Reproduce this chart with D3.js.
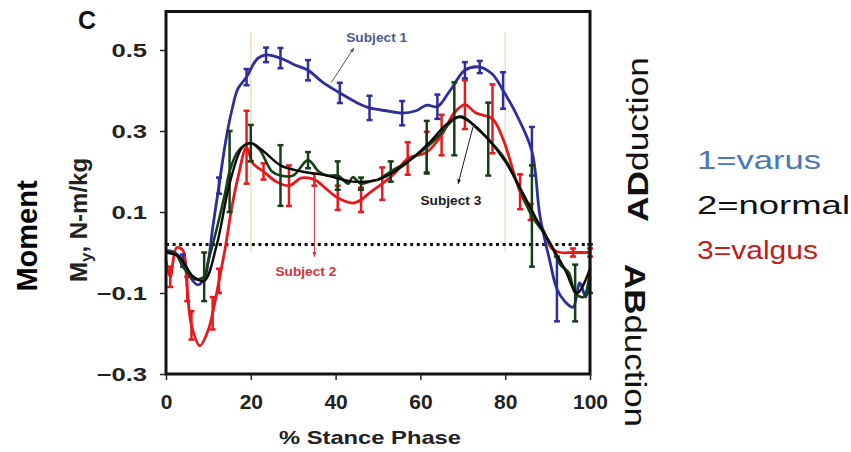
<!DOCTYPE html>
<meta charset="utf-8">
<script src="https://d3js.org/d3.v7.min.js"></script>
<style>
  body { margin: 0; background: #fff; }
  text { font-family: Arial, "Liberation Sans", sans-serif; }
</style>
<div id="chart"></div>
<script>

// % stance phase and moment values (N-m/kg)
var blueX = [0, 2, 4, 6, 7.5, 9, 10, 11, 12.5, 14, 15.5, 17, 19, 21.5, 23.6, 27, 30, 33.5, 37, 41, 45, 48, 52, 55.7, 59, 61.5, 64, 67, 70.5, 74, 77, 79.5, 82.7, 86.3, 88.2, 90.5, 92.2, 94, 96, 97.6, 99, 100]
var blueY = [0.005, 0.0, -0.02, -0.065, -0.08, -0.065, -0.02, 0.06, 0.165, 0.27, 0.35, 0.405, 0.433, 0.478, 0.488, 0.48, 0.465, 0.45, 0.42, 0.394, 0.37, 0.357, 0.35, 0.344, 0.35, 0.364, 0.36, 0.40, 0.45, 0.458, 0.44, 0.40, 0.34, 0.25, 0.09, -0.02, -0.09, -0.12, -0.135, -0.075, -0.11, -0.06]
var blueErr = [0, 0, 0.015, 0, 0, 0, 0, 0, 0.02, 0, 0, 0, 0.02, 0, 0.018, 0.025, 0, 0.025, 0, 0.025, 0, 0.03, 0, 0.03, 0, 0, 0.03, 0, 0.02, 0.015, 0, 0.045, 0, 0.06, 0, 0, 0.08, 0, 0, 0, 0, 0]

var greenX = [0, 2, 4, 6.5, 9, 10, 12, 14, 15, 17, 20, 22, 25, 27, 30, 33.5, 36, 38, 40.5, 43, 44, 46, 48, 50, 53, 57, 61.5, 64.5, 68, 70, 73, 76, 80, 83.5, 86.3, 89, 91, 93, 95, 96.5, 98.5, 100]
var greenY = [0.0, 0.0, -0.035, -0.065, -0.06, -0.02, 0.06, 0.15, 0.2, 0.25, 0.27, 0.255, 0.2, 0.19, 0.19, 0.228, 0.2, 0.19, 0.19, 0.17, 0.186, 0.17, 0.175, 0.18, 0.2, 0.225, 0.26, 0.29, 0.33, 0.335, 0.31, 0.28, 0.23, 0.155, 0.09, 0.05, 0.015, -0.03, -0.05, -0.1, -0.11, -0.04]
var greenErr = [0, 0, 0, 0, 0.06, 0, 0, 0, 0.1, 0, 0.045, 0, 0, 0.075, 0, 0.02, 0, 0, 0.035, 0, 0, 0.015, 0, 0, 0.025, 0, 0.065, 0, 0.09, 0, 0, 0.09, 0, 0, 0.125, 0, 0, 0, 0, 0.07, 0, 0.06]

var blackX = [0, 3, 6.5, 9, 12, 15, 18, 20, 23, 27, 32, 38, 44, 50, 56, 62, 66, 69, 72, 76, 80, 84, 88, 91, 94, 97, 100]
var blackY = [0, -0.01, -0.06, -0.07, 0.02, 0.17, 0.26, 0.27, 0.25, 0.215, 0.2, 0.19, 0.175, 0.18, 0.215, 0.27, 0.315, 0.335, 0.32, 0.28, 0.225, 0.15, 0.07, 0.015, -0.04, -0.1, -0.04]

var redX = [0, 1, 2.5, 4, 5, 6, 8, 10, 11, 12.5, 14, 15.5, 17, 19, 20.5, 23, 26, 29, 32, 35, 38, 40.5, 44, 46, 48, 51, 54, 57, 61.5, 65, 68, 70.5, 73, 77, 79.5, 83.5, 86, 89, 91, 93, 96, 100]
var redY = [-0.02, -0.06, 0.012, 0.005, -0.09, -0.18, -0.23, -0.19, -0.15, -0.07, 0.013, 0.11, 0.186, 0.26, 0.22, 0.2, 0.175, 0.165, 0.184, 0.18, 0.155, 0.135, 0.122, 0.13, 0.147, 0.17, 0.196, 0.232, 0.248, 0.29, 0.345, 0.365, 0.345, 0.33, 0.28, 0.15, 0.1, 0.055, 0.01, 0.0, 0.0, 0.0]
var redErr = [0, 0.025, 0, 0, 0.03, 0.035, 0, 0, 0.04, 0.03, 0, 0, 0, 0.09, 0, 0.02, 0, 0.05, 0, 0.015, 0, 0.03, 0, 0.03, 0, 0.04, 0, 0.04, 0.05, 0.05, 0, 0.06, 0, 0.085, 0, 0.043, 0.02, 0, 0, 0, 0.01, 0.01]

var xTicks = [0, 20, 40, 60, 80, 100]
var yTicks = [-0.3, -0.1, 0.1, 0.3, 0.5]
var legendLabels = ["1=varus", "2=normal", "3=valgus"]

var width = 851, height = 452

var svg = d3.select("#chart").append("svg")
    .attr("width", width)
    .attr("height", height)

var x = d3.scaleLinear().domain([0, 100]).range([166, 590])
var y = d3.scaleLinear().domain([-0.3, 0.5]).range([374, 50])

var plot = svg.append("g")

// faint guide lines at 20% and 80%
plot.selectAll(".guide")
  .data([20, 80])
  .enter().append("line")
    .attr("x1", d => x(d)).attr("x2", d => x(d))
    .attr("y1", y(0.545)).attr("y2", y(0.0))
    .attr("stroke", "#f0dcc0")
    .attr("stroke-width", 1.3)

// dotted reference line
plot.append("line")
  .attr("x1", x(0)).attr("x2", x(100))
  .attr("y1", y(0.02)).attr("y2", y(0.02))
  .attr("stroke", "#111")
  .attr("stroke-width", 3)
  .attr("stroke-dasharray", "3,3.6")

function drawSeries(xs, ys, errs, color, w) {
  var pts = xs.map((v, i) => [v, ys[i], errs ? errs[i] : 0])
  var line = d3.line()
      .x(d => x(d[0]))
      .y(d => y(d[1]))
      .curve(d3.curveCatmullRom.alpha(0.5))
  if (errs) {
    var bars = plot.append("g")
    var withErr = pts.filter(d => d[2] > 0)
    bars.selectAll("line.v").data(withErr).enter().append("line")
        .attr("x1", d => x(d[0])).attr("x2", d => x(d[0]))
        .attr("y1", d => y(d[1] + d[2])).attr("y2", d => y(d[1] - d[2]))
        .attr("stroke", color).attr("stroke-width", 2.5)
    ;[1, -1].forEach(function(s) {
      bars.selectAll("line.c" + s).data(withErr).enter().append("line")
          .attr("x1", d => x(d[0]) - 3).attr("x2", d => x(d[0]) + 3)
          .attr("y1", d => y(d[1] + s * d[2])).attr("y2", d => y(d[1] + s * d[2]))
          .attr("stroke", color).attr("stroke-width", 2.5)
    })
  }
  plot.append("path")
    .datum(pts)
    .attr("d", line)
    .attr("fill", "none")
    .attr("stroke", color)
    .attr("stroke-width", w)
    .attr("stroke-linejoin", "round")
}

drawSeries(redX, redY, redErr, "#e8191c", 2.8)
drawSeries(blueX, blueY, blueErr, "#2e2e98", 2.8)
drawSeries(greenX, greenY, greenErr, "#173f17", 2.6)
drawSeries(blackX, blackY, null, "#0a0a0a", 2.4)

// annotations
var notes = [
  {label: "Subject 1", tx: 42.5, ty: 0.52, from: [39, 0.42], to: [44.3, 0.505], color: "#4d5a8c"},
  {label: "Subject 3", tx: 60, ty: 0.118, from: [72.4, 0.31], to: [68.9, 0.17], color: "#1a1a1a"},
  {label: "Subject 2", tx: 25.8, ty: -0.058, from: [35, 0.18], to: [35, -0.01], color: "#d8323a"}
]

svg.append("defs").selectAll("marker")
  .data(notes)
  .enter().append("marker")
    .attr("id", (d, i) => "arr" + i)
    .attr("viewBox", "0 0 10 10")
    .attr("refX", 9).attr("refY", 5)
    .attr("markerWidth", 5).attr("markerHeight", 5)
    .attr("orient", "auto")
  .append("path")
    .attr("d", "M0,1 L10,5 L0,9 z")
    .attr("fill", d => d.color)

notes.forEach(function(n, i) {
  plot.append("line")
    .attr("x1", x(n.from[0])).attr("y1", y(n.from[1]))
    .attr("x2", x(n.to[0])).attr("y2", y(n.to[1]))
    .attr("stroke", i == 0 ? "#555" : n.color)
    .attr("stroke-width", 1)
    .attr("marker-end", "url(#arr" + i + ")")
  plot.append("text")
    .attr("x", x(n.tx)).attr("y", y(n.ty))
    .attr("fill", n.color)
    .style("font-size", "12.5px")
    .style("font-weight", "bold")
    .attr("textLength", 61)
    .attr("lengthAdjust", "spacingAndGlyphs")
    .text(n.label)
})

// frame
svg.append("rect")
  .attr("x", x(0)).attr("y", 11.5)
  .attr("width", x(100) - x(0)).attr("height", y(-0.3) - 11.5)
  .attr("fill", "none")
  .attr("stroke", "#111")
  .attr("stroke-width", 3)

// axes
var yAxis = svg.append("g")
  .attr("transform", "translate(" + x(0) + ",0)")
  .call(d3.axisLeft(y).tickValues(yTicks).tickFormat(d3.format(".1f")).tickSize(6).tickPadding(8))
yAxis.select(".domain").remove()
yAxis.selectAll("line").attr("stroke", "#222").attr("stroke-width", 1.5)
yAxis.selectAll("text")
  .attr("fill", "#222")
  .style("font-size", "19px")
  .style("font-weight", "bold")
  .attr("transform", "scale(1.35,1)")

var xAxis = svg.append("g")
  .attr("transform", "translate(0," + y(-0.3) + ")")
  .call(d3.axisBottom(x).tickValues(xTicks).tickSize(6).tickPadding(14))
xAxis.select(".domain").remove()
xAxis.selectAll("line").attr("stroke", "#222").attr("stroke-width", 1.5)
xAxis.selectAll("text")
  .attr("fill", "#222")
  .style("font-size", "21px")
  .style("font-weight", "bold")

svg.append("text")
  .attr("x", 370).attr("y", 444)
  .attr("text-anchor", "middle")
  .attr("fill", "#222")
  .style("font-size", "19px")
  .style("font-weight", "bold")
  .attr("textLength", 182)
  .attr("lengthAdjust", "spacingAndGlyphs")
  .text("% Stance Phase")

svg.append("text")
  .attr("x", 78).attr("y", 29)
  .attr("fill", "#111")
  .style("font-size", "25px")
  .style("font-weight", "bold")
  .text("C")

svg.append("text")
  .attr("transform", "translate(37,236) rotate(-90)")
  .attr("text-anchor", "middle")
  .style("font-size", "29px")
  .style("font-weight", "bold")
  .text("Moment")

var my = svg.append("text")
  .attr("transform", "translate(87,220) rotate(-90)")
  .attr("text-anchor", "middle")
  .attr("fill", "#222")
  .style("font-size", "24px")
  .style("font-weight", "bold")
my.append("tspan").text("M")
my.append("tspan").attr("dy", 5).style("font-size", "17px").text("y")
my.append("tspan").attr("dy", -5).text(", N-m/kg")

// right side labels
var ad = svg.append("text")
  .attr("transform", "translate(648,222) rotate(-90)")
  .attr("textLength", 165)
  .attr("lengthAdjust", "spacingAndGlyphs")
  .style("font-size", "30px")
  .attr("fill", "#111")
ad.append("tspan").style("font-weight", "bold").text("AD")
ad.append("tspan").text("duction")

var ab = svg.append("text")
  .attr("transform", "translate(625,264) rotate(90)")
  .attr("textLength", 163)
  .attr("lengthAdjust", "spacingAndGlyphs")
  .style("font-size", "30px")
  .attr("fill", "#111")
ab.append("tspan").style("font-weight", "bold").text("AB")
ab.append("tspan").text("duction")

var legendColors = ["#4a78b4", "#111111", "#c41a1a"]
svg.selectAll(".leg")
  .data(legendLabels)
  .enter().append("text")
    .attr("x", 697)
    .attr("y", (d, i) => 169 + i * 45)
    .attr("fill", (d, i) => legendColors[i])
    .style("font-size", "26px")
    .attr("textLength", (d, i) => [124, 153, 121][i])
    .attr("lengthAdjust", "spacingAndGlyphs")
    .text(d => d)

</script>
